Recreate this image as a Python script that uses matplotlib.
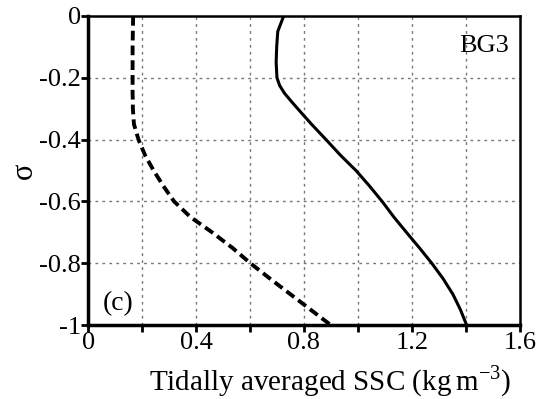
import matplotlib
matplotlib.use("Agg")
import matplotlib.pyplot as plt

# sigma levels and tidally averaged SSC profiles
sigma = [0, -0.05, -0.1, -0.15, -0.2, -0.225, -0.25, -0.275, -0.3, -0.35, -0.4, -0.45, -0.5,
         -0.55, -0.6, -0.65, -0.7, -0.75, -0.8, -0.85, -0.9, -0.95, -1.0]
ssc_solid = [0.725, 0.703, 0.699, 0.697, 0.700, 0.710, 0.728, 0.752, 0.777, 0.828, 0.882,
             0.935, 0.993, 1.043, 1.090, 1.133, 1.180, 1.228, 1.274, 1.316, 1.352, 1.380, 1.403]
ssc_dashed = [0.167, 0.166, 0.165, 0.165, 0.165, 0.165, 0.165, 0.166, 0.166, 0.170, 0.187,
              0.211, 0.243, 0.279, 0.319, 0.379, 0.460, 0.535, 0.602, 0.675, 0.750, 0.825, 0.900]

xticks = [0, 0.2, 0.4, 0.6, 0.8, 1.0, 1.2, 1.4, 1.6]
xticklabels = ['0', '', '0.4', '', '0.8', '', '1.2', '', '1.6']
yticks = [0, -0.2, -0.4, -0.6, -0.8, -1]
yticklabels = ['0', '-0.2', '-0.4', '-0.6', '-0.8', '-1']

plt.rcParams['font.family'] = ['Liberation Serif', 'DejaVu Serif']
plt.rcParams['mathtext.fontset'] = 'custom'
plt.rcParams['mathtext.rm'] = 'Liberation Serif'

fig = plt.figure(figsize=(5.37, 3.99), dpi=100)
ax = fig.add_axes([0.164, 0.185, 0.804, 0.775])

ax.plot(ssc_dashed, sigma, color='black', lw=2.8, linestyle=(0, (2.5, 1.3)))
ax.plot(ssc_solid, sigma, color='black', lw=2.2)

ax.set_xlim(0, 1.6)
ax.set_ylim(-1, 0)
ax.set_xticks(xticks)
ax.set_xticklabels(xticklabels)
ax.set_yticks(yticks)
ax.set_yticklabels(yticklabels)
ax.tick_params(direction='out', length=5, width=2, labelsize=19, pad=0)
ax.grid(True, color='#777777', linestyle=(0, (2, 3)), lw=1.0)

for side in ['left', 'bottom']:
    ax.spines[side].set_linewidth(2.5)
for side in ['top', 'right']:
    ax.spines[side].set_linewidth(1.8)

ax.set_xlabel('Tidally averaged SSC (kg$\\,$m$^{\\mathrm{-3}}$)', fontsize=21, labelpad=0)
ax.xaxis.set_label_coords(0.56, -0.125)
ax.set_ylabel('\u03c3', fontsize=22, labelpad=0)

ax.text(0.975, 0.94, 'BG3', transform=ax.transAxes, ha='right', va='top', fontsize=19)
ax.text(0.035, 0.03, '(c)', transform=ax.transAxes, ha='left', va='bottom', fontsize=20)

fig.savefig('out.png', dpi=100)
